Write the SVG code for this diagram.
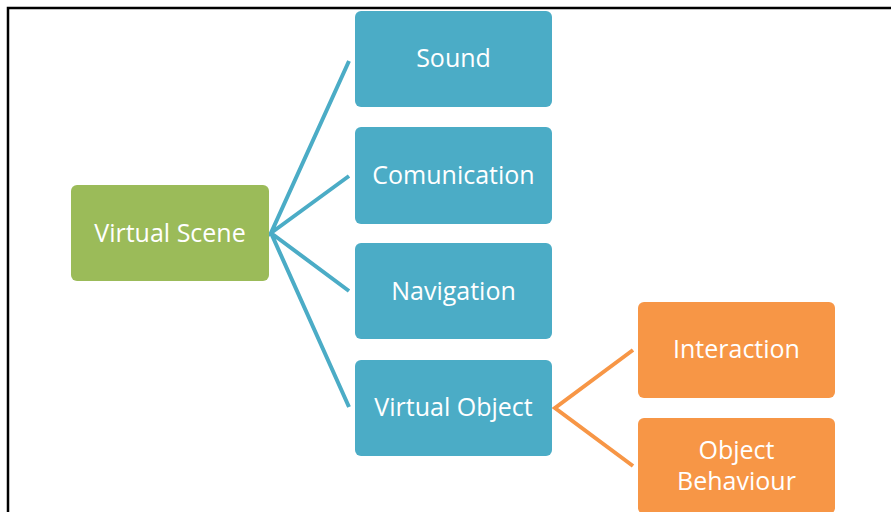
<svg xmlns="http://www.w3.org/2000/svg" width="891" height="512" viewBox="0 0 891 512">
  <style>
    .label { font-family: "Open Sans", "Noto Sans", sans-serif; font-size: 25px; fill: #ffffff; text-anchor: middle; }
    .green { fill: #9bbb59; }
    .blue { fill: #4bacc6; }
    .orange { fill: #f79646; }
    .link-blue { stroke: #4bacc6; stroke-width: 4; fill: none; }
    .link-orange { stroke: #f79646; stroke-width: 4; fill: none; }
  </style>
  <rect width="891" height="512" fill="#ffffff"/>
  <!-- frame: top and left edges -->
  <path d="M8 512 V8 H891" stroke="#000000" stroke-width="2.5" fill="none"/>

  <g id="connectors">
    <path class="link-blue" d="M349 61 L271 233 L349 176 M271 233 L349 291 M271 233 L349 407"/>
    <path class="link-orange" d="M633 350 L555 408 L633 466"/>
  </g>

  <g id="virtual-scene">
    <rect class="green" x="71" y="185" width="198" height="96" rx="6"/>
    <text class="label" x="170" y="242">Virtual Scene</text>
  </g>
  <g id="sound">
    <rect class="blue" x="355" y="11" width="197" height="96" rx="6"/>
    <text class="label" x="453.5" y="67">Sound</text>
  </g>
  <g id="comunication">
    <rect class="blue" x="355" y="127" width="197" height="97" rx="6"/>
    <text class="label" x="453.5" y="184">Comunication</text>
  </g>
  <g id="navigation">
    <rect class="blue" x="355" y="243" width="197" height="96" rx="6"/>
    <text class="label" x="453.5" y="300">Navigation</text>
  </g>
  <g id="virtual-object">
    <rect class="blue" x="355" y="360" width="197" height="96" rx="6"/>
    <text class="label" x="453.5" y="416">Virtual Object</text>
  </g>
  <g id="interaction">
    <rect class="orange" x="638" y="302" width="197" height="96" rx="6"/>
    <text class="label" x="736.5" y="358">Interaction</text>
  </g>
  <g id="object-behaviour">
    <rect class="orange" x="638" y="418" width="197" height="96" rx="6"/>
    <text class="label" x="736.5" y="459">Object</text>
    <text class="label" x="736.5" y="490">Behaviour</text>
  </g>
</svg>
